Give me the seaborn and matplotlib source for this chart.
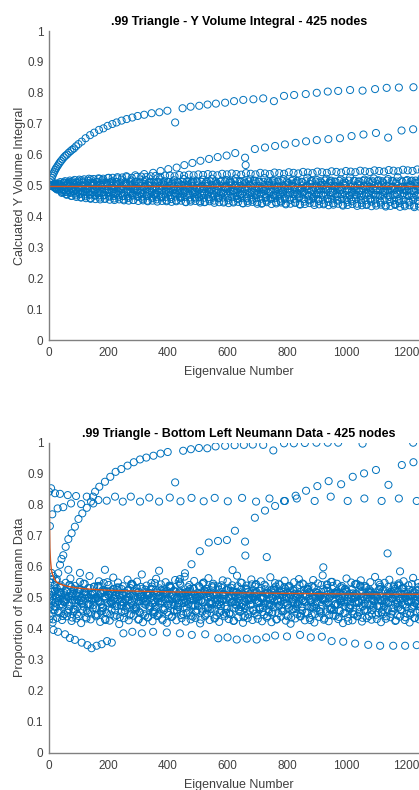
"""
Two-panel eigenvalue scatter: Y volume integral and bottom-left Neumann data
for the .99 triangle (425 nodes), redrawn with seaborn.
"""

import numpy as np
import pandas as pd
import matplotlib
matplotlib.use("Agg")
import matplotlib.pyplot as plt
import seaborn as sns

# Colours (MATLAB defaults)
BLUE = "#0072BD"
ORANGE = "#D95319"
AXIS_GREY = "#808080"
TEXT_GREY = "#404040"

X_MAX = 1275
BAND_STEP = 16
X_TICKS = [0, 200, 400, 600, 800, 1000, 1200]
Y_TICKS = [0, 0.1, 0.2, 0.3, 0.4, 0.5, 0.6, 0.7, 0.8, 0.9, 1.0]
Y_TICK_LABELS = ["0", "0.1", "0.2", "0.3", "0.4", "0.5", "0.6", "0.7", "0.8", "0.9", "1"]

TOP_TITLE = ".99 Triangle - Y Volume Integral - 425 nodes"
TOP_YLABEL = "Calcuated Y Volume Integral"
BOT_TITLE = ".99 Triangle - Bottom Left Neumann Data - 425 nodes"
BOT_YLABEL = "Proportion of Neumann Data"
XLABEL = "Eigenvalue Number"

# ---------------- top panel: distinct branches ----------------
TOP_UP_X = [3, 6, 9, 12, 15, 18, 21, 24, 28, 32, 36, 40, 45, 50, 55, 60, 66, 72, 78, 84,
            91, 99, 110, 123, 138, 152, 168, 183, 197, 213, 227, 244, 261, 280, 298, 320,
            345, 371, 398, 424, 449, 476, 505, 533, 561, 592, 622, 653, 687, 720, 756, 790,
            824, 863, 900, 937, 972, 1012, 1054, 1096, 1135, 1176, 1225, 1262]
TOP_UP_Y = [0.51, 0.517, 0.525, 0.532, 0.539, 0.545, 0.551, 0.556, 0.562, 0.568, 0.574,
            0.579, 0.585, 0.591, 0.596, 0.6, 0.606, 0.611, 0.616, 0.62, 0.627, 0.634, 0.642,
            0.653, 0.663, 0.671, 0.68, 0.685, 0.693, 0.699, 0.704, 0.71, 0.715, 0.72, 0.725,
            0.729, 0.734, 0.737, 0.742, 0.704, 0.75, 0.755, 0.758, 0.762, 0.765, 0.768, 0.773,
            0.777, 0.779, 0.782, 0.773, 0.79, 0.793, 0.796, 0.8, 0.804, 0.806, 0.809, 0.807,
            0.812, 0.816, 0.817, 0.818, 0.82]

TOP_MID_X = [20, 50, 80, 110, 140, 170, 200, 230, 260, 290, 320, 350, 375, 401, 429, 455,
             482, 509, 538, 567, 597, 626, 659, 661, 692, 726, 760, 793, 829, 864, 900, 939,
             978, 1017, 1057, 1099, 1140, 1185, 1224]
TOP_MID_Y = [0.505, 0.51, 0.514, 0.517, 0.52, 0.522, 0.525, 0.527, 0.53, 0.533, 0.537,
             0.541, 0.547, 0.553, 0.558, 0.566, 0.573, 0.58, 0.586, 0.592, 0.597, 0.605,
             0.59, 0.566, 0.618, 0.623, 0.628, 0.633, 0.638, 0.643, 0.647, 0.65, 0.653,
             0.66, 0.665, 0.67, 0.655, 0.678, 0.682]

# top panel: dense band near 0.5 (thousandths, one value every BAND_STEP eigenvalues)
TOP_BAND_START = [0, 5, 10, 3, 8, 12, 6, 2, 14, 9, 4, 11]
TOP_BAND_1 = [500, 504, 506, 507, 508, 509, 508, 510, 509, 510, 511, 510, 509, 511, 512, 510, 511, 512, 511, 510,
              512, 511, 513, 512, 511, 512, 513, 511, 512, 514, 512, 513, 512, 511, 513, 514, 512, 513, 514, 513,
              512, 514, 513, 515, 513, 512, 514, 515, 513, 514, 513, 515, 514, 512, 514, 515, 513, 514, 516, 514,
              513, 515, 514, 516, 515, 513, 515, 516, 514, 515, 514, 516, 515, 513, 516, 515, 514, 516, 515, 514]
TOP_BAND_2 = [500, 501, 500, 499, 500, 501, 499, 500, 498, 500, 499, 501, 498, 499, 500, 498, 499, 501, 499, 498,
              500, 499, 498, 500, 501, 499, 498, 500, 499, 497, 499, 500, 498, 499, 501, 498, 497, 499, 500, 498,
              499, 497, 500, 498, 499, 497, 498, 500, 499, 497, 498, 499, 497, 500, 498, 496, 499, 498, 497, 499,
              498, 496, 499, 497, 498, 500, 497, 496, 498, 499, 497, 498, 496, 499, 497, 498, 496, 498, 497, 499]
TOP_BAND_3 = [500, 497, 494, 492, 491, 490, 491, 489, 490, 488, 490, 489, 487, 489, 490, 488, 487, 489, 488, 486,
              488, 489, 487, 486, 488, 487, 489, 486, 487, 488, 485, 487, 488, 486, 485, 487, 486, 488, 485, 486,
              487, 485, 486, 484, 487, 485, 486, 484, 485, 487, 484, 486, 485, 483, 486, 484, 485, 487, 484, 483,
              485, 486, 484, 483, 485, 484, 486, 483, 484, 485, 483, 484, 486, 483, 485, 484, 482, 485, 483, 484]
TOP_BAND_4 = [500, 493, 488, 485, 483, 481, 480, 481, 479, 478, 480, 478, 477, 479, 477, 476, 478, 476, 477, 475,
              477, 476, 474, 476, 475, 477, 474, 475, 476, 473, 475, 474, 476, 473, 474, 475, 472, 474, 473, 475,
              472, 473, 474, 471, 473, 472, 474, 471, 472, 473, 470, 472, 471, 473, 470, 471, 472, 470, 471, 469,
              471, 472, 470, 469, 471, 470, 468, 470, 471, 469, 470, 468, 469, 471, 468, 469, 470, 467, 469, 468]
TOP_BAND_5 = [500, 490, 483, 479, 476, 474, 472, 471, 470, 469, 468, 469, 467, 466, 468, 466, 465, 467, 465, 464,
              466, 464, 463, 465, 463, 462, 464, 462, 463, 461, 463, 462, 460, 462, 461, 459, 461, 460, 462, 459,
              460, 458, 461, 459, 457, 460, 458, 459, 457, 456, 458, 457, 459, 456, 455, 457, 456, 454, 457, 455,
              454, 456, 453, 455, 457, 453, 452, 455, 454, 451, 453, 455, 452, 450, 453, 451, 454, 450, 452, 451]
TOP_BAND_6 = [500, 488, 479, 472, 467, 463, 461, 459, 457, 456, 455, 457, 454, 453, 455, 452, 451, 453, 450, 452,
              449, 451, 448, 450, 452, 447, 449, 451, 446, 448, 450, 445, 447, 449, 444, 446, 448, 443, 445, 447,
              442, 444, 447, 441, 443, 446, 440, 442, 445, 439, 441, 444, 438, 440, 443, 437, 439, 442, 436, 438,
              441, 435, 437, 440, 434, 436, 439, 433, 435, 438, 432, 434, 437, 431, 433, 436, 430, 432, 435, 431]
TOP_BAND_7 = [500, 507, 511, 514, 516, 518, 519, 520, 522, 521, 523, 522, 524, 525, 523, 526, 527, 525, 528, 529,
              527, 530, 531, 528, 532, 533, 530, 534, 532, 535, 533, 536, 534, 537, 535, 533, 538, 536, 539, 537,
              535, 540, 538, 536, 541, 539, 537, 542, 540, 538, 543, 541, 539, 544, 542, 540, 545, 543, 541, 546,
              544, 542, 547, 545, 543, 548, 546, 544, 549, 547, 545, 550, 548, 546, 551, 549, 547, 552, 550, 548]
TOP_BAND_8 = [500, 494, 490, 486, 497, 483, 492, 478, 488, 501, 475, 495, 484, 499, 472, 489, 503, 480, 493, 476,
              498, 485, 470, 491, 504, 479, 487, 496, 473, 502, 482, 490, 469, 497, 486, 505, 477, 494, 481, 499,
              471, 488, 503, 476, 492, 484, 500, 468, 495, 480, 489, 506, 474, 491, 498, 483, 470, 502, 487, 478,
              496, 485, 501, 467, 493, 481, 499, 475, 490, 504, 479, 486, 497, 472, 494, 482, 500, 469, 488, 503]
TOP_BAND_9 = [500, 502, 497, 505, 493, 508, 499, 490, 506, 496, 503, 487, 509, 498, 492, 504, 500, 486, 507, 495,
              501, 489, 510, 497, 493, 505, 484, 502, 499, 508, 491, 496, 506, 488, 503, 500, 494, 509, 485, 498,
              504, 492, 507, 497, 489, 501, 510, 495, 486, 503, 499, 508, 490, 496, 505, 493, 487, 502, 509, 498,
              494, 506, 488, 500, 504, 491, 497, 510, 485, 503, 499, 492, 507, 495, 489, 501, 508, 496, 493, 505]
TOP_BAND_10 = [500, 492, 486, 481, 478, 485, 474, 480, 471, 483, 476, 468, 479, 473, 482, 466, 477, 470, 484, 472,
               467, 478, 474, 463, 480, 469, 475, 465, 481, 471, 477, 462, 473, 479, 468, 464, 476, 470, 482, 466,
               472, 461, 478, 469, 474, 463, 480, 467, 471, 460, 477, 473, 465, 479, 468, 462, 475, 470, 458, 476,
               466, 472, 461, 478, 469, 464, 474, 459, 470, 467, 477, 463, 471, 457, 475, 466, 462, 473, 468, 460]
TOP_BAND_11 = [500, 503, 506, 509, 511, 507, 513, 510, 515, 508, 512, 517, 509, 514, 511, 519, 507, 516, 513, 510,
               518, 512, 508, 520, 514, 511, 517, 509, 521, 513, 516, 510, 519, 512, 522, 508, 515, 518, 511, 523,
               514, 509, 520, 516, 512, 524, 510, 517, 513, 521, 508, 519, 515, 511, 525, 514, 518, 510, 522, 516,
               512, 520, 509, 526, 515, 513, 519, 511, 523, 517, 510, 521, 514, 527, 512, 518, 516, 509, 524, 515]
TOP_BAND_12 = [500, 487, 476, 470, 466, 468, 462, 465, 459, 467, 461, 457, 464, 458, 462, 455, 460, 453, 463, 457,
               451, 459, 455, 461, 449, 456, 452, 460, 447, 454, 458, 450, 446, 455, 451, 459, 445, 452, 448, 456,
               443, 450, 454, 447, 441, 451, 457, 446, 449, 442, 453, 445, 440, 448, 452, 444, 450, 439, 447, 443,
               451, 438, 446, 449, 441, 444, 437, 448, 442, 445, 436, 447, 440, 443, 438, 446, 435, 441, 444, 437]

TOP_MEAN_X = [0, 1275]
TOP_MEAN_Y = [0.5, 0.5]

# ---------------- bottom panel: distinct branches ----------------
BOT_TOP_X = [12, 20, 26, 31, 37, 42, 48, 56, 65, 76, 87, 99, 112, 127, 141, 148, 155, 169,
             188, 206, 224, 243, 264, 285, 306, 327, 351, 375, 399, 451, 477, 504, 532, 560,
             592, 624, 655, 685, 720, 754, 790, 823, 860, 899, 937, 972, 1054, 1224]
BOT_TOP_Y = [0.52, 0.541, 0.56, 0.579, 0.606, 0.625, 0.637, 0.664, 0.689, 0.708, 0.729,
             0.754, 0.772, 0.79, 0.81, 0.826, 0.842, 0.858, 0.874, 0.89, 0.906, 0.915, 0.926,
             0.937, 0.946, 0.952, 0.958, 0.965, 0.97, 0.974, 0.979, 0.983, 0.982, 0.988, 0.99,
             0.992, 0.993, 0.994, 0.993, 0.975, 0.998, 0.998, 0.999, 1.0, 1.0, 1.0, 0.997, 1.0]

BOT_MID_X = [0, 7, 20, 37, 63, 91, 127, 166, 194, 222, 248, 275, 306, 337, 370, 406, 442,
             479, 520, 557, 601, 649, 696, 741, 790, 833, 893, 947, 1004, 1060, 1118, 1176, 1236]
BOT_MID_Y = [0.842, 0.853, 0.837, 0.835, 0.831, 0.828, 0.826, 0.815, 0.813, 0.826, 0.81,
             0.826, 0.81, 0.823, 0.81, 0.823, 0.811, 0.822, 0.811, 0.822, 0.811, 0.822, 0.81,
             0.82, 0.812, 0.82, 0.812, 0.826, 0.812, 0.82, 0.812, 0.82, 0.812]

BOT_LOW_X = [3, 11, 29, 48, 74, 108, 149]
BOT_LOW_Y = [0.731, 0.769, 0.788, 0.792, 0.804, 0.802, 0.804]

BOT_RISE_X = [440, 457, 479, 507, 537, 568, 598, 625, 659, 660, 692, 726, 760, 793, 829,
              864, 902, 940, 982, 1021, 1059, 1099, 1141, 1186, 1225]
BOT_RISE_Y = [0.56, 0.579, 0.608, 0.65, 0.678, 0.683, 0.686, 0.716, 0.681, 0.636, 0.758,
              0.781, 0.796, 0.812, 0.829, 0.845, 0.86, 0.876, 0.866, 0.89, 0.901, 0.912,
              0.864, 0.928, 0.937]

BOT_DIP_X = [1, 15, 30, 54, 70, 87, 110, 129, 143, 160, 177, 195, 211, 250, 280, 312, 350,
             396, 440, 480, 525, 569, 600, 631, 665, 698, 730, 760, 800, 844, 880, 917, 950,
             989, 1029, 1073, 1113, 1157, 1197, 1236]
BOT_DIP_Y = [0.43, 0.396, 0.39, 0.382, 0.37, 0.364, 0.355, 0.347, 0.337, 0.345, 0.35, 0.36,
             0.355, 0.385, 0.39, 0.385, 0.39, 0.388, 0.385, 0.38, 0.382, 0.369, 0.372, 0.365,
             0.368, 0.365, 0.372, 0.378, 0.375, 0.38, 0.372, 0.374, 0.36, 0.358, 0.352, 0.348,
             0.345, 0.345, 0.345, 0.347]

BOT_OUT_X = [14, 65, 104, 188, 370, 424, 617, 732, 922, 1138, 1180]
BOT_OUT_Y = [0.57, 0.59, 0.58, 0.59, 0.587, 0.872, 0.589, 0.631, 0.598, 0.643, 0.585]

# bottom panel: noisy band around 0.5 (thousandths)
BOT_BAND_START = [0, 5, 10, 3, 8, 12, 6, 13, 2, 15, 7, 11, 4, 14]
BOT_BAND_1 = [510, 495, 505, 488, 502, 512, 494, 499, 507, 491, 503, 515, 497, 486, 509, 500, 493, 511, 504, 489,
              498, 508, 492, 505, 514, 496, 487, 501, 510, 494, 506, 499, 490, 513, 502, 485, 497, 508, 495, 504,
              512, 491, 500, 507, 489, 503, 516, 498, 493, 509, 501, 487, 505, 496, 511, 492, 500, 506, 488, 503,
              514, 497, 491, 508, 499, 486, 504, 510, 495, 502, 489, 507, 498, 493, 512, 500, 490, 505, 497, 508]
BOT_BAND_2 = [470, 485, 478, 492, 474, 483, 489, 471, 480, 476, 491, 468, 484, 479, 473, 487, 475, 482, 469, 490,
              477, 472, 486, 481, 467, 488, 476, 483, 470, 479, 492, 474, 485, 466, 481, 477, 489, 472, 484, 475,
              470, 486, 478, 493, 469, 482, 476, 488, 473, 480, 467, 485, 479, 491, 474, 471, 487, 477, 483, 468,
              480, 490, 472, 476, 486, 469, 481, 475, 489, 473, 478, 484, 466, 482, 477, 488, 471, 480, 485, 474]
BOT_BAND_3 = [560, 530, 515, 522, 535, 510, 526, 518, 531, 512, 538, 521, 514, 527, 533, 509, 524, 540, 516, 529,
              511, 536, 520, 525, 513, 532, 519, 542, 517, 528, 510, 534, 523, 515, 539, 526, 512, 530, 521, 537,
              514, 527, 543, 518, 531, 511, 524, 536, 516, 529, 520, 513, 541, 525, 518, 533, 510, 527, 522, 538,
              515, 530, 519, 526, 545, 512, 532, 521, 517, 535, 524, 513, 528, 540, 518, 526, 511, 534, 520, 529]
BOT_BAND_4 = [440, 460, 452, 447, 463, 455, 441, 458, 450, 466, 445, 457, 449, 462, 443, 454, 468, 446, 459, 451,
              442, 465, 453, 448, 460, 444, 456, 470, 447, 452, 439, 461, 455, 449, 464, 443, 457, 451, 446, 467,
              454, 441, 459, 448, 462, 445, 453, 469, 450, 456, 440, 463, 447, 458, 452, 444, 466, 449, 455, 461,
              442, 457, 450, 465, 446, 453, 459, 441, 468, 451, 447, 462, 455, 443, 458, 449, 464, 452, 445, 460]
BOT_BAND_5 = [580, 555, 540, 548, 562, 538, 551, 545, 570, 536, 553, 547, 541, 565, 549, 537, 558, 544, 552, 575,
              539, 547, 561, 543, 550, 535, 557, 546, 568, 541, 554, 538, 549, 563, 545, 536, 556, 552, 540, 571,
              548, 539, 559, 544, 553, 537, 566, 547, 542, 555, 538, 550, 560, 543, 535, 557, 546, 572, 541, 551,
              545, 538, 562, 549, 543, 556, 537, 550, 567, 542, 548, 558, 539, 546, 553, 540, 564, 547, 544, 552]
BOT_BAND_6 = [420, 435, 428, 440, 425, 433, 418, 437, 430, 445, 422, 431, 426, 439, 415, 434, 427, 442, 429, 421,
              436, 424, 441, 432, 419, 438, 427, 444, 423, 430, 435, 417, 440, 428, 433, 422, 446, 431, 425, 437,
              419, 434, 428, 443, 424, 436, 421, 430, 439, 426, 416, 433, 441, 427, 435, 420, 438, 429, 424, 442,
              431, 418, 436, 427, 440, 423, 434, 429, 445, 421, 432, 437, 425, 439, 428, 420, 435, 430, 443, 426]
BOT_BAND_7 = [530, 470, 515, 485, 540, 462, 505, 520, 478, 498, 535, 468, 510, 490, 525, 474, 500, 545, 465, 512,
              488, 528, 471, 507, 495, 538, 460, 517, 483, 522, 476, 503, 548, 469, 511, 492, 531, 464, 508, 486,
              526, 473, 499, 541, 467, 514, 481, 523, 477, 502, 536, 463, 509, 489, 529, 470, 506, 497, 543, 466,
              513, 484, 520, 475, 501, 539, 461, 516, 491, 527, 472, 504, 534, 468, 510, 487, 524, 479, 500, 546]
BOT_BAND_8 = [505, 512, 498, 520, 507, 515, 501, 518, 509, 496, 514, 504, 521, 500, 511, 517, 503, 508, 519, 497,
              513, 506, 516, 502, 522, 510, 499, 515, 505, 518, 501, 512, 520, 507, 496, 514, 509, 503, 517, 500,
              511, 519, 504, 508, 497, 516, 506, 513, 521, 502, 510, 499, 518, 507, 515, 503, 509, 520, 498, 512,
              505, 517, 501, 514, 508, 522, 500, 511, 506, 516, 503, 519, 509, 497, 513, 504, 518, 507, 511, 502]
BOT_BAND_9 = [495, 472, 518, 486, 505, 463, 527, 490, 478, 512, 499, 466, 521, 484, 508, 475, 496, 531, 469, 503,
              487, 515, 460, 498, 524, 481, 507, 470, 493, 519, 476, 501, 465, 528, 489, 511, 473, 497, 522, 480,
              506, 467, 492, 516, 484, 500, 462, 525, 488, 509, 477, 495, 530, 471, 504, 486, 518, 464, 499, 513,
              479, 494, 526, 468, 507, 483, 502, 520, 474, 491, 461, 514, 497, 485, 529, 470, 508, 490, 476, 517]
BOT_BAND_10 = [462, 488, 475, 451, 493, 470, 482, 458, 497, 466, 479, 453, 490, 473, 485, 460, 469, 494, 456, 481,
               471, 448, 487, 464, 477, 495, 455, 483, 468, 474, 452, 491, 466, 480, 459, 486, 472, 450, 489, 463,
               476, 496, 457, 482, 467, 478, 454, 492, 465, 484, 461, 473, 449, 488, 470, 479, 456, 494, 464, 475,
               458, 485, 469, 447, 490, 472, 481, 460, 474, 453, 487, 466, 493, 462, 478, 451, 483, 471, 457, 489]
BOT_BAND_11 = [520, 498, 532, 507, 515, 493, 526, 510, 502, 535, 489, 518, 509, 528, 496, 512, 523, 491, 531, 504,
               517, 499, 525, 488, 513, 536, 501, 521, 495, 508, 529, 490, 516, 503, 533, 497, 511, 524, 486, 519,
               505, 530, 494, 514, 500, 527, 492, 517, 509, 534, 498, 522, 487, 512, 526, 503, 515, 495, 531, 507,
               520, 489, 524, 501, 513, 537, 496, 518, 506, 528, 493, 510, 522, 499, 533, 504, 516, 491, 527, 511]
BOT_BAND_12 = [488, 501, 479, 495, 506, 483, 492, 510, 477, 498, 487, 504, 481, 496, 509, 485, 493, 476, 502, 490,
               507, 482, 497, 489, 511, 478, 494, 503, 486, 499, 475, 505, 491, 484, 508, 480, 496, 500, 487, 512,
               479, 493, 504, 483, 498, 490, 476, 506, 488, 495, 509, 481, 501, 486, 497, 474, 503, 492, 485, 510,
               478, 499, 489, 505, 482, 494, 508, 477, 500, 491, 486, 511, 480, 496, 503, 488, 475, 507, 493, 484]
BOT_BAND_13 = [548, 522, 536, 515, 541, 527, 519, 545, 531, 512, 538, 524, 550, 517, 533, 528, 511, 543, 520, 535,
               526, 514, 547, 530, 518, 539, 523, 552, 513, 534, 529, 516, 544, 521, 537, 510, 540, 525, 532, 518,
               549, 527, 514, 536, 522, 542, 511, 530, 545, 519, 533, 526, 512, 546, 528, 538, 516, 541, 523, 551,
               515, 534, 529, 513, 543, 520, 537, 527, 510, 548, 524, 535, 517, 540, 531, 514, 544, 522, 539, 526]
BOT_BAND_14 = [430, 452, 441, 458, 436, 447, 462, 433, 449, 440, 455, 428, 446, 459, 437, 451, 443, 465, 431, 448,
               438, 456, 444, 427, 453, 439, 460, 434, 450, 442, 457, 429, 445, 463, 435, 452, 440, 448, 426, 458,
               437, 446, 461, 432, 454, 441, 449, 430, 457, 443, 436, 464, 439, 451, 428, 447, 455, 433, 444, 460,
               438, 450, 425, 456, 442, 435, 459, 446, 431, 453, 440, 448, 427, 462, 437, 445, 434, 457, 441, 450]

BOT_MEAN_X = [1, 2, 3, 5, 8, 12, 18, 26, 40, 60, 90, 130, 200, 300, 450, 600, 800, 1000, 1275]
BOT_MEAN_Y = [0.84, 0.72, 0.66, 0.62, 0.59, 0.575, 0.56, 0.55, 0.543, 0.537, 0.532, 0.528,
              0.524, 0.521, 0.518, 0.516, 0.514, 0.512, 0.511]


def band_frame(tracks, starts):
    """Turns band tracks (thousandths) into x/y frames."""
    frames = []
    for vals, start in zip(tracks, starts):
        x = start + BAND_STEP * np.arange(len(vals))
        frames.append(pd.DataFrame({"x": x, "y": np.asarray(vals) / 1000.0}))
    return frames


def build_points(branches, tracks, starts):
    """Stacks the separate branches and the band into one frame."""
    frames = [pd.DataFrame({"x": bx, "y": by}) for bx, by in branches]
    frames += band_frame(tracks, starts)
    return pd.concat(frames, ignore_index=True)


def draw_panel(ax, points, mean_x, mean_y, title, ylabel):
    """One MATLAB-like scatter panel with its running mean line."""
    sns.scatterplot(
        data=points, x="x", y="y", ax=ax,
        marker="o", s=26, facecolor="none", edgecolor=BLUE,
        linewidth=0.7, legend=False,
    )
    sns.lineplot(x=mean_x, y=mean_y, ax=ax, color=ORANGE, linewidth=1.0)

    ax.set_xlim(0, X_MAX)
    ax.set_ylim(0, 1)
    ax.set_xticks(X_TICKS)
    ax.set_yticks(Y_TICKS)
    ax.set_yticklabels(Y_TICK_LABELS)
    ax.tick_params(direction="in", length=3, width=0.8, colors=AXIS_GREY,
                   labelcolor=TEXT_GREY, labelsize=8.5)
    ax.tick_params(axis="x", pad=5)
    ax.tick_params(axis="y", pad=4)
    for side in ["top", "right"]:
        ax.spines[side].set_visible(False)
    for side in ["left", "bottom"]:
        ax.spines[side].set_color(AXIS_GREY)
        ax.spines[side].set_linewidth(1.0)

    ax.set_title(title, fontsize=9, fontweight="bold", color="black", pad=4)
    ax.set_xlabel(XLABEL, fontsize=9, color=TEXT_GREY, labelpad=5)
    ax.set_ylabel(ylabel, fontsize=9, color=TEXT_GREY, labelpad=1)


def main():
    sns.set_style("white")
    plt.rcParams["font.family"] = ["Liberation Sans", "DejaVu Sans"]

    fig = plt.figure(figsize=(4.19, 7.90), dpi=100)
    ax_w = X_MAX * 0.2975 / 419
    ax_top = fig.add_axes([49 / 419, 1 - 340 / 790, ax_w, 309 / 790])
    ax_bot = fig.add_axes([49 / 419, 1 - 752.7 / 790, ax_w, 310 / 790])

    top_points = build_points(
        [(TOP_UP_X, TOP_UP_Y), (TOP_MID_X, TOP_MID_Y)],
        [TOP_BAND_1, TOP_BAND_2, TOP_BAND_3, TOP_BAND_4, TOP_BAND_5, TOP_BAND_6,
         TOP_BAND_7, TOP_BAND_8, TOP_BAND_9, TOP_BAND_10, TOP_BAND_11, TOP_BAND_12],
        TOP_BAND_START,
    )
    bot_points = build_points(
        [(BOT_TOP_X, BOT_TOP_Y), (BOT_MID_X, BOT_MID_Y), (BOT_LOW_X, BOT_LOW_Y),
         (BOT_RISE_X, BOT_RISE_Y), (BOT_DIP_X, BOT_DIP_Y), (BOT_OUT_X, BOT_OUT_Y)],
        [BOT_BAND_1, BOT_BAND_2, BOT_BAND_3, BOT_BAND_4, BOT_BAND_5, BOT_BAND_6, BOT_BAND_7,
         BOT_BAND_8, BOT_BAND_9, BOT_BAND_10, BOT_BAND_11, BOT_BAND_12, BOT_BAND_13, BOT_BAND_14],
        BOT_BAND_START,
    )

    draw_panel(ax_top, top_points, TOP_MEAN_X, TOP_MEAN_Y, TOP_TITLE, TOP_YLABEL)
    draw_panel(ax_bot, bot_points, BOT_MEAN_X, BOT_MEAN_Y, BOT_TITLE, BOT_YLABEL)

    fig.savefig("out.png", dpi=100)
    plt.close(fig)
    print("saved out.png")


if __name__ == "__main__":
    main()
